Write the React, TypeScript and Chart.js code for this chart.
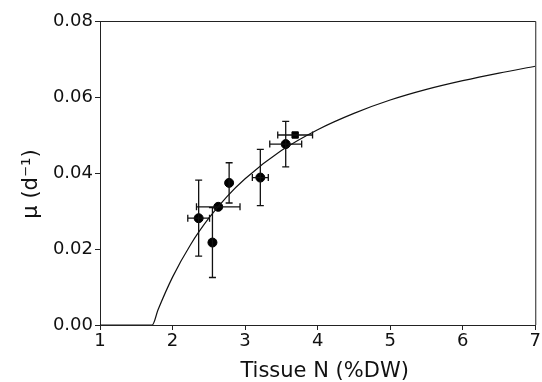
import React, { useEffect, useRef } from "react";
import { Chart, registerables } from "chart.js";

Chart.register(...registerables);

// Measured data (tissue N, growth rate) with error bars
const xValues = [2.36, 2.55, 2.63, 2.78, 3.21, 3.56, 3.69];
const yValues = [0.0281, 0.0217, 0.0311, 0.0374, 0.0388, 0.0476, 0.05];
const xErrors = [0.15, 0, 0.3, 0, 0.11, 0.22, 0.24];
const yErrors = [0.01, 0.0092, 0, 0.0053, 0.0074, 0.006, 0];
const pointStyles = ["circle", "circle", "circle", "circle", "circle", "circle", "rect"];

// Fitted curve
const curveX = [1, 1.72, 1.8, 2, 2.25, 2.5, 2.75, 3, 3.5, 4, 4.5, 5, 5.5, 6, 6.5, 7];
const curveY = [0, 0, 0.004, 0.0126, 0.0212, 0.0281, 0.0338, 0.0385, 0.0459, 0.0514, 0.0557, 0.0592, 0.062, 0.0643, 0.0663, 0.0681];

// Axis ticks and titles
const xTicks = [1, 2, 3, 4, 5, 6, 7];
const yTicks = [0, 0.02, 0.04, 0.06, 0.08];
const xTitle = "Tissue N (%DW)";
const yTitle = "μ (d⁻¹)";

const FONT = "'DejaVu Sans', Arial, sans-serif";

const errorBarPlugin = {
  id: "errorBars",
  afterDatasetsDraw(chart: any) {
    const { ctx, scales } = chart;
    const xs = scales.x;
    const ys = scales.y;
    const cap = 3.5;
    ctx.save();
    ctx.strokeStyle = "#111";
    ctx.lineWidth = 1.3;
    for (let i = 0; i < xValues.length; i++) {
      const px = xs.getPixelForValue(xValues[i]);
      const py = ys.getPixelForValue(yValues[i]);
      if (yErrors[i] > 0) {
        const t = ys.getPixelForValue(yValues[i] + yErrors[i]);
        const b = ys.getPixelForValue(yValues[i] - yErrors[i]);
        ctx.beginPath();
        ctx.moveTo(px, t);
        ctx.lineTo(px, b);
        ctx.moveTo(px - cap, t);
        ctx.lineTo(px + cap, t);
        ctx.moveTo(px - cap, b);
        ctx.lineTo(px + cap, b);
        ctx.stroke();
      }
      if (xErrors[i] > 0) {
        const l = xs.getPixelForValue(xValues[i] - xErrors[i]);
        const r = xs.getPixelForValue(xValues[i] + xErrors[i]);
        ctx.beginPath();
        ctx.moveTo(l, py);
        ctx.lineTo(r, py);
        ctx.moveTo(l, py - cap);
        ctx.lineTo(l, py + cap);
        ctx.moveTo(r, py - cap);
        ctx.lineTo(r, py + cap);
        ctx.stroke();
      }
    }
    ctx.restore();
  },
};

const framePlugin = {
  id: "frame",
  afterDraw(chart: any) {
    const { ctx, chartArea } = chart;
    ctx.save();
    ctx.strokeStyle = "#222";
    ctx.lineWidth = 1;
    ctx.beginPath();
    ctx.moveTo(chartArea.left, chartArea.top + 0.5);
    ctx.lineTo(chartArea.right + 0.5, chartArea.top + 0.5);
    ctx.lineTo(chartArea.right + 0.5, chartArea.bottom);
    ctx.stroke();

    // axis titles
    ctx.fillStyle = "#111";
    ctx.font = `21px ${FONT}`;
    ctx.textAlign = "center";
    ctx.textBaseline = "alphabetic";
    ctx.fillText(xTitle, (chartArea.left + chartArea.right) / 2 + 7, chartArea.bottom + 52);
    ctx.translate(37, (chartArea.top + chartArea.bottom) / 2 + 11);
    ctx.rotate(-Math.PI / 2);
    ctx.fillText(yTitle, 0, 0);
    ctx.restore();
  },
};

export default function App() {
  const ref = useRef<HTMLCanvasElement>(null);
  useEffect(() => {
    document.body.style.margin = "0";
    const chart = new Chart(ref.current!, {
      type: "scatter",
      data: {
        datasets: [
          {
            type: "line",
            data: curveX.map((x, i) => ({ x, y: curveY[i] })),
            borderColor: "#111",
            borderWidth: 1.2,
            pointRadius: 0,
            cubicInterpolationMode: "monotone",
            fill: false,
          } as any,
          {
            data: xValues.map((x, i) => ({ x, y: yValues[i] })),
            backgroundColor: "#000",
            borderColor: "#000",
            pointRadius: 4.5,
            pointStyle: pointStyles as any,
          },
        ],
      },
      options: {
        animation: false,
        responsive: false,
        layout: { padding: { top: 21, right: 5, left: 0, bottom: 0 } },
        plugins: { legend: { display: false }, tooltip: { enabled: false } },
        scales: {
          x: {
            type: "linear",
            min: 1,
            max: 7,
            afterBuildTicks: (s: any) => {
              s.ticks = xTicks.map((v) => ({ value: v }));
            },
            ticks: { color: "#111", font: { family: FONT, size: 18 }, padding: 1 },
            grid: { drawOnChartArea: false, color: "#222", tickLength: 5 },
            border: { color: "#222", width: 1 },
            afterFit: (s: any) => {
              s.height = 57;
            },
          },
          y: {
            type: "linear",
            min: 0,
            max: 0.08,
            afterBuildTicks: (s: any) => {
              s.ticks = yTicks.map((v) => ({ value: v }));
            },
            ticks: {
              color: "#111",
              font: { family: FONT, size: 18 },
              padding: 2,
              callback: (v: any) => Number(v).toFixed(2),
            },
            grid: { drawOnChartArea: false, color: "#222", tickLength: 5 },
            border: { color: "#222", width: 1 },
            afterFit: (s: any) => {
              s.width = 100;
            },
          },
        },
      },
      plugins: [errorBarPlugin, framePlugin],
    });
    return () => chart.destroy();
  }, []);
  return (
    <div style={{ position: "absolute", left: 0, top: 0 }}>
      <canvas ref={ref} width={542} height={382} style={{ width: 542, height: 382 }} />
    </div>
  );
}
